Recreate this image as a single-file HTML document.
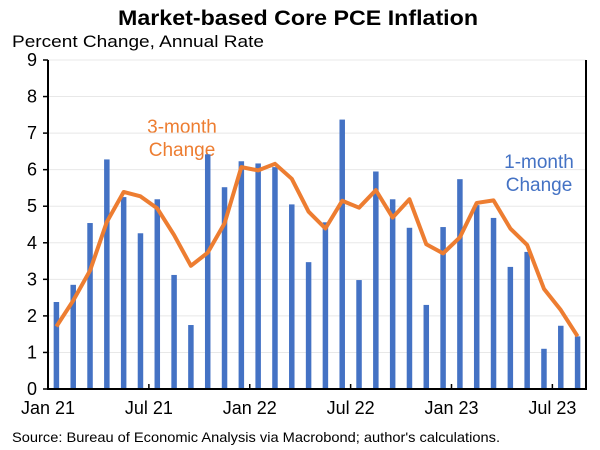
<!DOCTYPE html>
<html><head><meta charset="utf-8"><style>
body{margin:0;background:#fff;}
svg{display:block;font-family:"Liberation Sans",Arial,sans-serif;}
</style></head><body>
<svg id="chart" width="600" height="450">
<text x="298" y="25" text-anchor="middle" font-size="21" font-weight="bold" textLength="360" lengthAdjust="spacingAndGlyphs">Market-based Core PCE Inflation</text>
<text x="12" y="47" font-size="17" textLength="252" lengthAdjust="spacingAndGlyphs">Percent Change, Annual Rate</text>
<text x="12" y="442" font-size="14" textLength="488" lengthAdjust="spacingAndGlyphs">Source: Bureau of Economic Analysis via Macrobond; author's calculations.</text>
<text x="182" y="133" text-anchor="middle" font-size="19" fill="#ED7D31">3-month</text>
<text x="182" y="156" text-anchor="middle" font-size="19" fill="#ED7D31">Change</text>
<text x="539" y="168" text-anchor="middle" font-size="19" fill="#4472C4">1-month</text>
<text x="539" y="191" text-anchor="middle" font-size="19" fill="#4472C4">Change</text>
<g id="grid"></g><g id="bars"></g><g id="line"></g><g id="axes"></g>
</svg>
<script>
const monthly = [2.38,2.85,4.54,6.28,5.25,4.26,5.19,3.12,1.75,6.42,5.52,6.23,
6.17,6.07,5.05,3.47,4.56,7.37,2.98,5.95,5.19,4.41,2.30,4.43,
5.74,5.03,4.68,3.34,3.75,1.10,1.73,1.44];
const threeMonth = [1.71,2.42,3.24,4.57,5.39,5.27,4.94,4.21,3.37,3.73,4.53,6.07,
5.98,6.16,5.75,4.85,4.39,5.15,4.96,5.44,4.69,5.19,3.96,3.71,
4.15,5.09,5.16,4.39,3.94,2.74,2.16,1.44];
const yTicks = [0,1,2,3,4,5,6,7,8,9];
const xLabels = ["Jan 21","Jul 21","Jan 22","Jul 22","Jan 23","Jul 23"];
const xLabelIdx = [0,6,12,18,24,30];

const NS="http://www.w3.org/2000/svg";
const L=48,R=586,T=60,B=389,yMax=9;
const n=monthly.length, cw=(R-L)/n;
const xs=i=>L+cw*(i+0.5);
const ys=v=>B-(v/yMax)*(B-T);
function mk(tag,attrs,parent){const e=document.createElementNS(NS,tag);for(const k in attrs)e.setAttribute(k,attrs[k]);document.getElementById(parent).appendChild(e);return e;}

yTicks.forEach(t=>{
  if(t>0){const g=mk('line',{x1:L,x2:R,y1:ys(t),y2:ys(t),stroke:'#e8e8e8','stroke-width':1},'grid');
  
  }
  const tk=mk('line',{x1:L-5,x2:L,y1:ys(t),y2:ys(t),stroke:'#000','stroke-width':1.5},'axes');
  
  
  const tl=mk('text',{x:L-11,y:ys(t)+6,'text-anchor':'end','font-size':18},'axes');
  tl.textContent=t;
  
  
});
monthly.forEach((v,i)=>{
  const b=mk('rect',{x:xs(i)-2.75,y:ys(v),width:5.5,height:B-ys(v),fill:'#4472C4'},'bars');
  
  
});
const p=mk('polyline',{points:threeMonth.map((v,i)=>xs(i)+','+ys(v)).join(' '),fill:'none',stroke:'#ED7D31','stroke-width':4,'stroke-linejoin':'round'},'line');



const ax=mk('path',{d:`M${L},${T} V${B} H${R} V${T}`,fill:'none',stroke:'#000','stroke-width':2},'axes');


xLabelIdx.forEach((idx,j)=>{
  const x=L+cw*idx;
  if(idx>0){const tk=mk('line',{x1:x,x2:x,y1:B,y2:B-5,stroke:'#000','stroke-width':1.5},'axes');
  
  }
  const tl=mk('text',{x:x,y:B+25,'text-anchor':'middle','font-size':18},'axes');
  tl.textContent=xLabels[j];
  
  
});
</script>
</body></html>
